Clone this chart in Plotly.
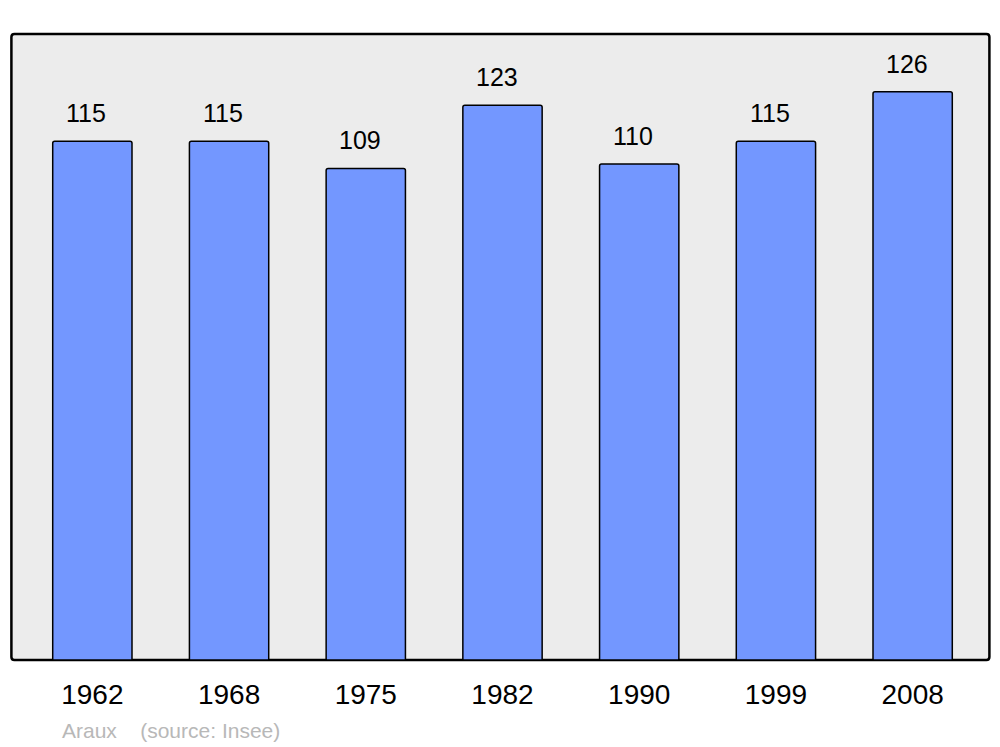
import plotly.graph_objects as go

years = ["1962", "1968", "1975", "1982", "1990", "1999", "2008"]
population = [115, 115, 109, 123, 110, 115, 126]
source_text = "Araux    (source: Insee)"

# page body has an 8px default margin, so the figure is drawn at (8, 8)
OFF = 8
W, H = 1000 - OFF, 747 - OFF
L, R, T, B = 23.6 - OFF, 19.4, 34 - OFF, 747 - 660
pw = W - L - R
ph = H - T - B

def px_x(p):
    return (p - OFF - L) / pw

def px_y(p):
    return (H - B - (p - OFF)) / ph

FONT = "Liberation Sans, Arial, sans-serif"

fig = go.Figure()
fig.add_trace(go.Bar(
    x=years, y=population,
    marker=dict(color="#7397ff", line=dict(color="#000000", width=1.5)),
    width=0.58,
    hoverinfo="skip",
))

for i, v in enumerate(population):
    fig.add_annotation(x=i, y=v, xref="x", yref="y", text=str(v), showarrow=False,
                       yshift=28, xshift=-6,
                       font=dict(size=25, color="#000000", family=FONT))

# background panel with rounded corners
x0, x1 = px_x(11), px_x(989)
y0, y1 = px_y(660), px_y(34)
rx = 3 / pw
ry = 3 / ph
path = (f"M {x0+rx},{y0} L {x1-rx},{y0} Q {x1},{y0} {x1},{y0+ry} "
        f"L {x1},{y1-ry} Q {x1},{y1} {x1-rx},{y1} L {x0+rx},{y1} Q {x0},{y1} {x0},{y1-ry} "
        f"L {x0},{y0+ry} Q {x0},{y0} {x0+rx},{y0} Z")
fig.add_shape(type="path", path=path, xref="paper", yref="paper",
              fillcolor="#ececec", line=dict(color="#000000", width=2.5), layer="below")

fig.add_annotation(x=px_x(60), y=px_y(730), xref="paper", yref="paper",
                   xanchor="left", yanchor="middle", text=source_text, showarrow=False,
                   font=dict(size=21, color="#b8b8b8", family=FONT))

fig.update_layout(
    width=W, height=H,
    margin=dict(l=L, r=R, t=T, b=B, autoexpand=False),
    paper_bgcolor="#ffffff",
    plot_bgcolor="rgba(0,0,0,0)",
    showlegend=False,
    barcornerradius=2,
    font=dict(family=FONT),
    xaxis=dict(type="category", showgrid=False, zeroline=False, showline=False, ticks="",
               tickfont=dict(size=28, color="#000000"), ticklabelstandoff=15,
               range=[-0.5, 6.5]),
    yaxis=dict(showgrid=False, zeroline=False, showline=False, showticklabels=False,
               range=[0, 138.8]),
)

fig.write_html("out.html")
